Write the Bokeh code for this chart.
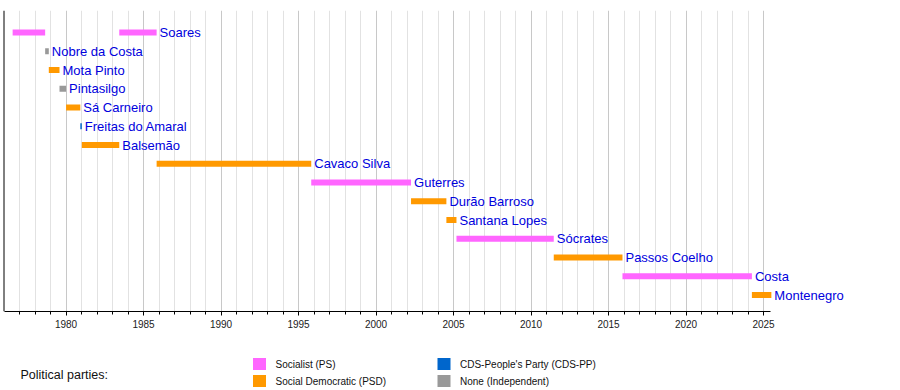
import pandas as pd
from bokeh.plotting import figure
from bokeh.models import ColumnDataSource, FixedTicker, Range1d, Span
from bokeh.layouts import column
from bokeh.core.properties import value
from bokeh.embed import file_html
from bokeh.resources import INLINE

# ---------------- data ----------------
pm_names = ["Soares", "Nobre da Costa", "Mota Pinto", "Pintasilgo", "Sá Carneiro",
            "Freitas do Amaral", "Balsemão", "Cavaco Silva", "Guterres", "Durão Barroso",
            "Santana Lopes", "Sócrates", "Passos Coelho", "Costa", "Montenegro"]

term_names = ["Soares", "Nobre da Costa", "Mota Pinto", "Pintasilgo", "Sá Carneiro",
              "Freitas do Amaral", "Balsemão", "Soares", "Cavaco Silva", "Guterres",
              "Durão Barroso", "Santana Lopes", "Sócrates", "Passos Coelho", "Costa", "Montenegro"]
term_start = ["1976-07-23", "1978-08-28", "1978-11-22", "1979-08-01", "1980-01-03",
              "1980-12-04", "1981-01-09", "1983-06-09", "1985-11-06", "1995-10-28",
              "2002-04-06", "2004-07-17", "2005-03-12", "2011-06-21", "2015-11-26", "2024-04-02"]
term_end = ["1978-08-28", "1978-11-22", "1979-08-01", "1980-01-03", "1980-12-04",
            "1981-01-09", "1983-06-09", "1985-11-06", "1995-10-28", "2002-04-06",
            "2004-07-17", "2005-03-12", "2011-06-21", "2015-11-26", "2024-04-02", "2025-07-05"]
term_party = ["PS", "IND", "PSD", "IND", "PSD", "CDS", "PSD", "PS", "PSD", "PS",
              "PSD", "PSD", "PS", "PSD", "PS", "PSD"]

party_keys = ["PS", "PSD", "CDS", "IND"]
party_labels = ["Socialist (PS)", "Social Democratic (PSD)",
                "CDS-People's Party (CDS-PP)", "None (Independent)"]
party_colors = ["#ff66ff", "#ff9900", "#0066cc", "#999999"]

axis_start, axis_end = 1976, 2025.42
major_ticks = [1980, 1985, 1990, 1995, 2000, 2005, 2010, 2015, 2020, 2025]
tick_labels = ["1980", "1985", "1990", "1995", "2000", "2005", "2010", "2015", "2020", "2025"]
minor_ticks = [y for y in range(1977, 2026) if y % 5 != 0]

legend_title = "Political parties:"

# ---------------- helpers ----------------
def dec_year(dates):
    d = pd.to_datetime(pd.Series(dates))
    days = d.dt.is_leap_year.map({True: 366, False: 365})
    return list(d.dt.year + (d.dt.dayofyear - 1) / days)

color_of = dict(zip(party_keys, party_colors))
row_of = {n: i for i, n in enumerate(pm_names)}

starts = dec_year(term_start)
ends = dec_year(term_end)

bars = ColumnDataSource(dict(
    y=[row_of[n] for n in term_names],
    left=starts,
    right=ends,
    color=[color_of[p] for p in term_party],
))

# label at the end of each person's last term
last_end = {}
for n, e in zip(term_names, ends):
    last_end[n] = max(last_end.get(n, e), e)
labels = ColumnDataSource(dict(
    x=[last_end[n] for n in pm_names],
    y=[row_of[n] for n in pm_names],
    text=pm_names,
))

# ---------------- main figure ----------------
W = 884
px_per_year = 15.5
x0 = axis_start - 3.5 / px_per_year
x1 = x0 + W / px_per_year

row_px = 18.75
y_top = -(32 - 10) / row_px
y_bot = (311 - 32) / row_px

p = figure(width=W, height=338, output_backend="svg", toolbar_location=None,
           x_range=Range1d(x0, x1), y_range=Range1d(y_bot, y_top),
           y_axis_location=None, min_border_left=0, min_border_right=0,
           min_border_top=10, min_border_bottom=27)
p.outline_line_color = None
p.background_fill_color = "white"
p.border_fill_color = "white"

ticker = FixedTicker(ticks=major_ticks, minor_ticks=minor_ticks)
p.xaxis.ticker = ticker
p.xaxis.major_label_overrides = dict(zip(major_ticks, tick_labels))
p.xaxis.bounds = (axis_start, axis_end)
p.xaxis.axis_line_color = "black"
p.xaxis.axis_line_width = 1
p.xaxis.major_tick_line_color = "black"
p.xaxis.minor_tick_line_color = "black"
p.xaxis.major_tick_out = 4
p.xaxis.major_tick_in = 0
p.xaxis.minor_tick_out = 3
p.xaxis.minor_tick_in = 0
p.xaxis.major_label_standoff = 4
p.xaxis.major_label_text_font = "Liberation Sans"
p.xaxis.major_label_text_font_size = "10px"
p.xaxis.major_label_text_color = "#222222"

p.ygrid.visible = False
p.xgrid.ticker = ticker
p.xgrid.grid_line_color = "#c8c8c8"
p.xgrid.grid_line_width = 1
p.xgrid.minor_grid_line_color = "#e2e2e2"
p.xgrid.minor_grid_line_width = 1

p.add_layout(Span(location=axis_start, dimension="height", line_color="black", line_width=1))

p.hbar(y="y", left="left", right="right", height=6 / row_px, color="color",
       line_color=None, source=bars)

p.text(x="x", y="y", text="text", source=labels, x_offset=3,
       text_baseline="middle", text_align="left",
       text_font=value("Liberation Sans"), text_font_size="13px",
       text_color="#0000dd")

# ---------------- legend figure ----------------
LH = 52
lg = figure(width=W, height=LH, output_backend="svg", toolbar_location=None,
            x_range=Range1d(0, W), y_range=Range1d(LH, 0),
            x_axis_location=None, y_axis_location=None,
            min_border=0, min_border_left=0, min_border_right=0,
            min_border_top=0, min_border_bottom=0)
lg.outline_line_color = None
lg.grid.visible = False

col_x = [252.5, 437]
row_y = [19.5, 36.5]
sw_left, sw_right, sw_top, sw_bot, tx, ty = [], [], [], [], [], []
for i, lab in enumerate(party_labels):
    c, r = i // 2, i % 2
    sw_left.append(col_x[c])
    sw_right.append(col_x[c] + 13)
    sw_top.append(row_y[r])
    sw_bot.append(row_y[r] + 12)
    tx.append(col_x[c] + 22.5)
    ty.append(row_y[r] + 6.5)

lg.quad(left=sw_left, right=sw_right, top=sw_top, bottom=sw_bot,
        color=party_colors, line_color=None)
lg.text(x=tx, y=ty, text=party_labels, text_baseline="middle",
        text_font=value("Liberation Sans"), text_font_size="10px", text_color="#111111")
lg.text(x=[20], y=[36.5], text=[legend_title], text_baseline="middle",
        text_font=value("Liberation Sans"), text_font_size="12.5px", text_color="#111111")

layout = column(p, lg, spacing=0)

open("out.html", "w").write(file_html(layout, INLINE))
